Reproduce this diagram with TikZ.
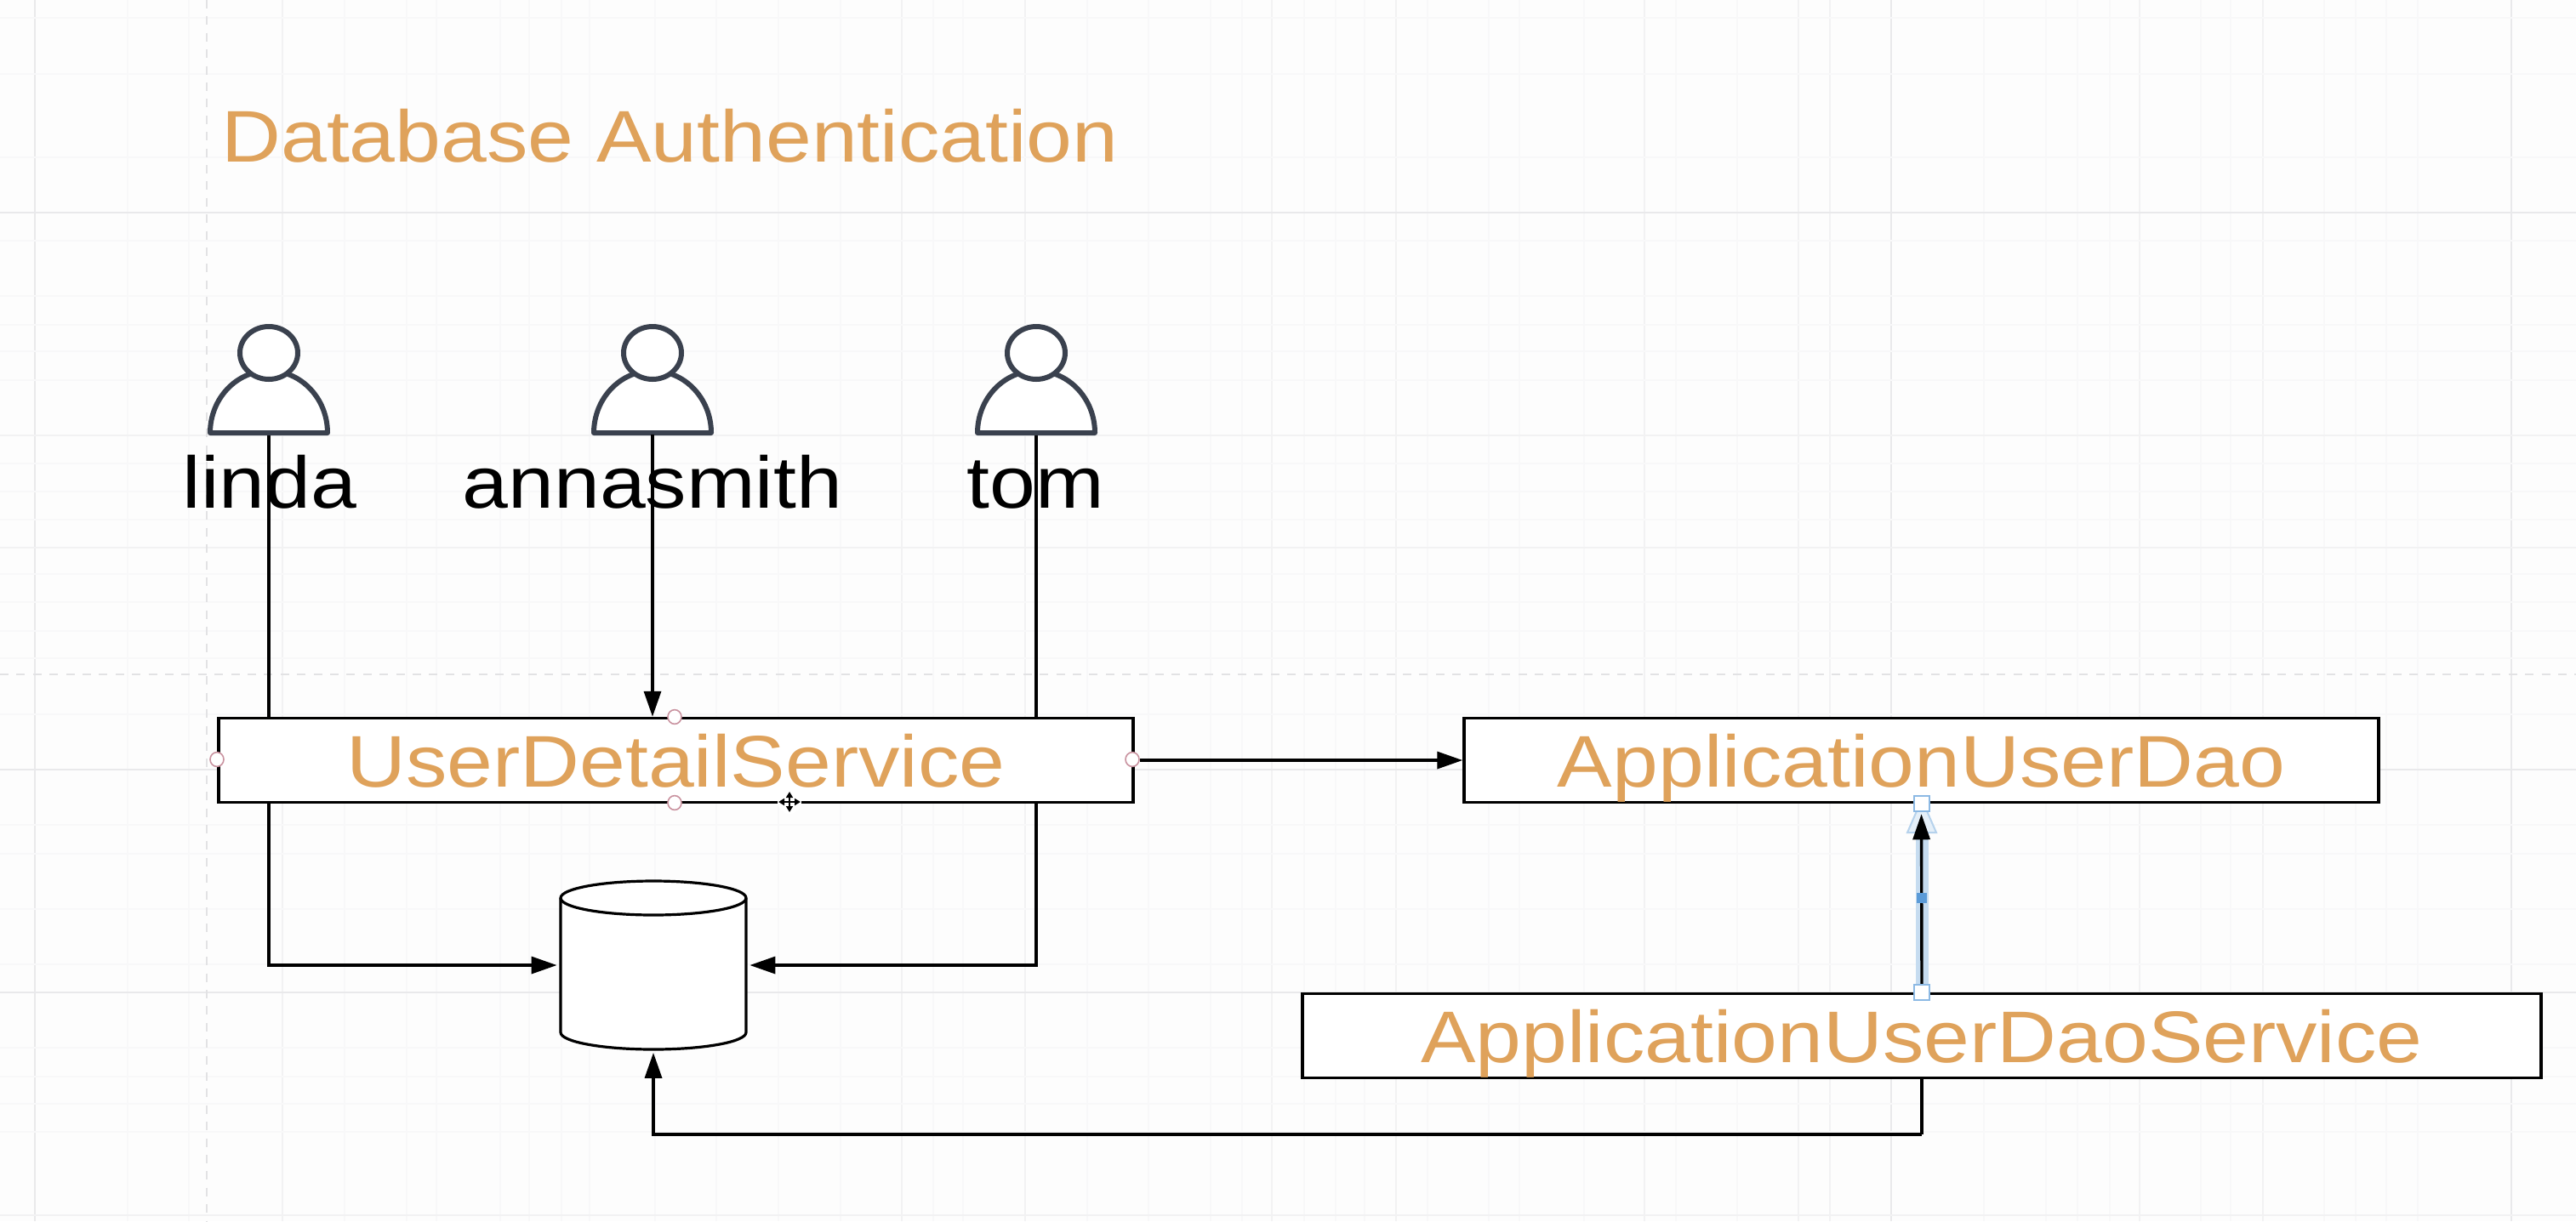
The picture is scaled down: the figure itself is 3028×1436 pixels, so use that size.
\documentclass[tikz,border=0pt]{standalone}
\usepackage{fontspec}
\setmainfont{Liberation Sans}
\newfontfamily\widesans[FakeStretch=1.125]{Liberation Sans}
\usetikzlibrary{arrows.meta,calc}
\definecolor{pagebg}{HTML}{FDFDFD}
\definecolor{gridminor}{HTML}{F8F8F9}
\definecolor{gridmid}{HTML}{F2F2F3}
\definecolor{gridstrong}{HTML}{E9E9EB}
\definecolor{griddash}{HTML}{E2E2E4}
\definecolor{orangetext}{HTML}{DFA25B}
\definecolor{personline}{HTML}{3A414E}
\definecolor{handlepink}{HTML}{C9929F}
\definecolor{selband}{HTML}{C6DCF0}
\definecolor{seledge}{HTML}{5B9BD8}
\pgfdeclarelayer{back}
\pgfsetlayers{back,main}
\tikzset{
  labeltext/.style={font=\widesans\fontsize{43pt}{43pt}\selectfont,inner sep=0pt},
  service/.style={draw=black,fill=white,line width=1.75pt,inner sep=0pt,text=orangetext,
    font=\widesans\fontsize{43pt}{43pt}\selectfont,minimum height=49.5pt,text height=31pt,text depth=0pt},
  conn/.style={draw=black,line width=1.7pt,-{Triangle[length=15pt,width=10pt]}},
  plainconn/.style={draw=black,line width=1.7pt},
  personstroke/.style={draw=personline,fill=white,line width=3pt,line join=round},
  handle/.style={draw=handlepink,fill=white,line width=.8pt},
  selsquare/.style={draw=seledge!70,fill=white,line width=1pt},
}
\newcommand{\personicon}[2]{%
  \draw[personstroke] (#1-69,509) arc[start angle=180,end angle=0,x radius=34.5pt,y radius=36.5pt] -- cycle;
  \draw[personstroke] (#1,415) ellipse[x radius=17pt,y radius=15.5pt];
  \coordinate (#2) at (#1,511);
}
\begin{document}
\begin{tikzpicture}[x=0.5pt,y=-0.5pt]
\useasboundingbox (0,0) rectangle (3028,1436);
% people
\personicon{316}{footl}
\personicon{767}{foota}
\personicon{1218}{foott}
\node[labeltext,anchor=base] (linda) at (317,597) {linda};
\node[labeltext,anchor=base] (anna) at (767,597) {annasmith};
\node[labeltext,anchor=base] (tom) at (1217,597) {tom};
\node[labeltext,text=orangetext,anchor=base west] (title) at (260,190) {Database Authentication};
% boxes
\node[service,minimum width=537.5pt] (uds) at (794.5,894) {UserDetailService};
\node[service,minimum width=537.5pt] (aud) at (2258.5,894) {ApplicationUserDao};
\node[service,minimum width=728pt] (aus) at (2259,1218) {ApplicationUserDaoService};
% database
\node[minimum width=109pt,minimum height=98.5pt,inner sep=0pt] (db) at (768,1135) {};
\draw[draw=black,fill=white,line width=1.6pt,line join=round] (659,1056)
  -- (659,1214) arc[start angle=180,end angle=360,x radius=54.5pt,y radius=10pt]
  -- (877,1056) arc[start angle=0,end angle=180,x radius=54.5pt,y radius=10pt] -- cycle;
\draw[draw=black,line width=1.6pt] (659,1056) arc[start angle=180,end angle=360,x radius=54.5pt,y radius=10pt];
% grid and connectors behind
\begin{pgfonlayer}{back}
  \fill[pagebg] (0,0) rectangle (3028,1436);
  \foreach \gx in {150,222,405,478,513,588,622,660,693,770,842,915,988,1097,1132,1278,1350,1423,1460,1533,1570,1604,1678,1750,1786,1862,1970,2042,2332,2405,2442,2480,2587,2622,2732,2769,2805,2842}
    \draw[gridminor,line width=.7pt] (\gx,0) -- (\gx,1436);
  \foreach \gx in {332,1060,1205,1495,1641,1933,2114,2151,2515,2660}
    \draw[gridmid,line width=.9pt] (\gx,0) -- (\gx,1436);
  \draw[gridstrong,line width=.9pt] (41,0) -- (41,1436) (2223,0) -- (2223,1436) (2952,0) -- (2952,1436);
  \foreach \gy in {21,87,185,283,348,382,413,447,545,578,611,675,708,742,774,840,970,1004,1069,1134,1232,1266,1298,1331}
    \draw[gridminor,line width=.7pt] (0,\gy) -- (3028,\gy);
  \foreach \gy in {512,644,1429}
    \draw[gridmid,line width=.9pt] (0,\gy) -- (3028,\gy);
  \foreach \gy in {250,905,1167}
    \draw[gridstrong,line width=.9pt] (0,\gy) -- (3028,\gy);
  \draw[griddash,line width=.9pt,dash pattern=on 5pt off 4.7pt] (243,0) -- (243,1436);
  \draw[griddash,line width=.9pt,dash pattern=on 5pt off 4.7pt] (0,793) -- (3028,793);
  \draw[conn,shorten >=2pt] (footl) |- (db.west);
  \draw[conn,shorten >=2pt] (foott) |- (db.east);
\end{pgfonlayer}
\draw[conn] (foota) -- (foota |- uds.north);
\draw[conn,shorten <=3pt] (uds) -- (aud);
\coordinate (turn) at (2259,1334);
\draw[plainconn] (aus.south) -- (turn);
\draw[conn,shorten >=2pt] (turn) -| (db.south);
% handles on UserDetailService
\foreach \hx/\hy in {793/843,793/944,255/893,1331/893}
  \draw[handle] (\hx,\hy) ellipse[x radius=4pt,y radius=4.2pt];
% move cursor
\fill[white] (928,943) circle[radius=7pt];
\draw[black,line width=.9pt,{Triangle[length=3.5pt,width=4pt]}-{Triangle[length=3.5pt,width=4pt]}] (915,943) -- (941,943);
\draw[black,line width=.9pt,{Triangle[length=3.5pt,width=4pt]}-{Triangle[length=3.5pt,width=4pt]}] (928,931) -- (928,955);
% selected connector AUS -> AUD
\fill[selband] (2252,975) rectangle (2267,1160);
\draw[draw=selband!85!seledge,fill=selband!45!white,line width=1pt] (2259,940) -- (2276,979) -- (2242,979) -- cycle;
\draw[conn,shorten >=6pt] (aus.north) -- (aud.south);
\fill[seledge] (2253,1050) rectangle (2265,1062);
\draw[selsquare] (2250,936) rectangle (2268,954);
\draw[selsquare] (2250,1158) rectangle (2268,1176);
\end{tikzpicture}
\end{document}
